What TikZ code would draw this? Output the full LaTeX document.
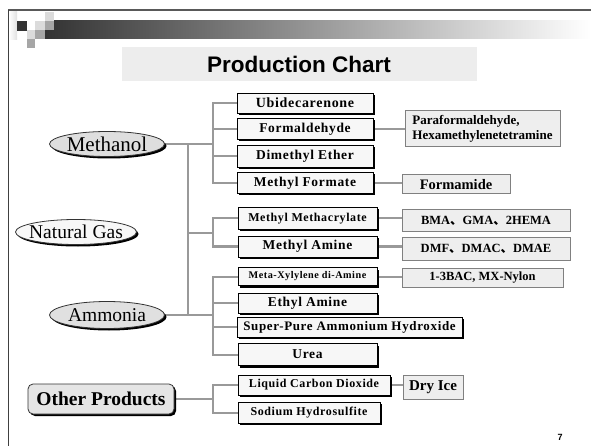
\documentclass[tikz,border=0pt]{standalone}
\usepackage{fontspec}
\setmainfont{Liberation Serif}
\newfontfamily\boxf[LetterSpace=5]{Liberation Serif}
\newfontfamily\sansf{Liberation Sans}
\newfontfamily\cjk{Noto Sans CJK SC}
\usetikzlibrary{shapes.geometric,shadows,backgrounds}
\definecolor{conncol}{HTML}{999999}
\definecolor{rbfill}{HTML}{EEEEEE}
\definecolor{rbdraw}{HTML}{808080}
\newcommand{\dn}{{\cjk 、}}
\begin{document}
\begin{tikzpicture}[x=1pt,y=-1pt,
  conn/.style={draw=conncol,line width=2pt},
  shad/.style={drop shadow={shadow xshift=2pt,shadow yshift=-2pt,opacity=1,fill=black}},
  midbox/.style={shad,draw=black,line width=0.8pt,fill=white!97!black,inner sep=0pt,
    font=\boxf\bfseries\fontsize{13.5}{15}\selectfont},
  rbox/.style={draw=rbdraw,line width=1pt,fill=rbfill,inner sep=0pt,
    font=\bfseries\fontsize{12.5}{13.5}\selectfont},
  src/.style={shad,ellipse,draw=black!80,line width=0.8pt,inner sep=0pt},
  srctext/.style={inner sep=0pt,font=\fontsize{19.5}{21}\selectfont},
]
\useasboundingbox (0,0) rectangle (591,446);
\begin{scope}[on background layer]
\fill[white] (0,0) rectangle (591,446);
\end{scope}
% slide frame and header decoration
\shade[left color=white,right color=black!12] (9,12) rectangle (17,40);
\shade[left color=black!80,middle color=black!30,right color=white] (45,21) rectangle (591,39);
\fill[black!80] (17,21) rectangle (27,31);
\fill[black!14] (35,21) rectangle (45,30);
\fill[black!14] (45,12) rectangle (54,21);
\fill[black!35] (45,21) rectangle (54,30);
\fill[black!14] (27,30) rectangle (35,39);
\fill[black!35] (35,30) rectangle (45,39);
\fill[black!35] (27,39) rectangle (35,48);
\draw[black!65,line width=1.5pt] (8,10) -- (591,10);
\draw[black!75,line width=1pt] (8,10) -- (8,446);
% title
\fill[black!7] (122,47) rectangle (477,81);
\node (title) at (299,64) {\sansf\bfseries\fontsize{22.5}{24}\selectfont Production Chart};
% sources
\node[src,fill=black!13,minimum width=115,minimum height=25] (meth) at (107,144) {};
\node[srctext,font=\fontsize{21}{22}\selectfont] (metht) at (meth.center) {Methanol};
\node[src,fill=black!3,minimum width=121,minimum height=25] (ng) at (76,232) {};
\node[srctext] (ngt) at (ng.center) {Natural Gas};
\node[src,fill=black!12,minimum width=115,minimum height=27] (amm) at (107,315) {};
\node[srctext] (ammt) at (amm.center) {Ammonia};
\node[shad,draw=black!80,line width=0.8pt,fill=black!10,rounded corners=5pt,inner sep=0pt,
  minimum width=146,minimum height=30,font=\bfseries\fontsize{19.5}{21}\selectfont] (oth) at (101,399) {Other Products};
% middle column
\node[midbox,minimum width=136,minimum height=20,font=\boxf\bfseries\fontsize{14}{15}\selectfont] (ubi) at (305,103) {Ubidecarenone};
\node[midbox,minimum width=136,minimum height=21] (form) at (305,129) {Formaldehyde};
\node[midbox,minimum width=136,minimum height=22] (dme) at (305,156) {Dimethyl Ether};
\node[midbox,minimum width=136,minimum height=21] (mf) at (305,183) {Methyl Formate};
\node[midbox,minimum width=139,minimum height=22,font=\boxf\bfseries\fontsize{12}{13}\selectfont] (mma) at (307.5,218.5) {Methyl Methacrylate};
\node[midbox,minimum width=139,minimum height=21,font=\boxf\bfseries\fontsize{13.5}{14}\selectfont] (ma) at (307.5,246.5) {Methyl Amine};
\node[midbox,minimum width=139,minimum height=18,font=\boxf\bfseries\fontsize{10.2}{11}\selectfont] (mx) at (307.5,276.5) {Meta-Xylylene di-Amine};
\node[midbox,minimum width=139,minimum height=20] (ea) at (307.5,303) {Ethyl Amine};
\node[midbox,minimum width=225,minimum height=20,font=\boxf\bfseries\fontsize{13}{14}\selectfont] (sp) at (349.5,327) {Super-Pure Ammonium Hydroxide};
\node[midbox,minimum width=139,minimum height=22] (urea) at (307.5,354.5) {Urea};
\node[midbox,minimum width=152,minimum height=20,font=\boxf\bfseries\fontsize{12}{13}\selectfont] (lco) at (314,385) {Liquid Carbon Dioxide};
\node[midbox,minimum width=142,minimum height=21,font=\boxf\bfseries\fontsize{12}{13}\selectfont] (sh) at (309,412.5) {Sodium Hydrosulfite};
% right column
\node[rbox,minimum width=155,minimum height=36,align=left,font=\bfseries\fontsize{13}{14.5}\selectfont] (pf) at (482.5,129) {Paraformaldehyde,\\Hexamethylenetetramine};
\node[rbox,minimum width=108,minimum height=19,font=\bfseries\fontsize{14.5}{15}\selectfont] (fa) at (456,184.5) {Formamide};
\node[rbox,minimum width=168,minimum height=22] (bma) at (486,221) {BMA\dn GMA\dn 2HEMA};
\node[rbox,minimum width=168,minimum height=22] (dmf) at (486,249) {DMF\dn DMAC\dn DMAE};
\node[rbox,minimum width=161,minimum height=19] (bac) at (482.5,277.5) {1-3BAC, MX-Nylon};
\node[rbox,minimum width=60,minimum height=24,font=\bfseries\fontsize{15}{16}\selectfont] (dry) at (433,387) {Dry Ice};
% page number
\node (pg) at (560,437) {\sansf\bfseries\fontsize{9}{10}\selectfont 7};
% junctions
\coordinate (jm) at (213,144);
\coordinate (jt1) at (188,144);
\coordinate (jt2) at (188,315);
\coordinate (jt3) at (188,233);
\coordinate (jmm) at (213,233);
\coordinate (ja) at (213,315);
\coordinate (jo) at (213,399);
\begin{scope}[on background layer]
\draw[conn] (meth.east) -- (jm);
\draw[conn] (ubi.west) -| (jm);
\draw[conn] (mf.west) -| (jm);
\draw[conn] (form.west) -- (form.west -| jm);
\draw[conn] (dme.west) -- (dme.west -| jm);
\draw[conn] (jt1) -- (jt2);
\draw[conn] (jt3) -- (jmm);
\draw[conn] (mma.west) -| (jmm);
\draw[conn] (ma.west) -| (jmm);
\draw[conn] (amm.east) -- (ja);
\draw[conn] (mx.west) -| (ja);
\draw[conn] (urea.west) -| (ja);
\draw[conn] (ea.west) -- (ea.west -| ja);
\draw[conn] (sp.west) -- (sp.west -| ja);
\draw[conn] (oth.east) -- (jo);
\draw[conn] (lco.west) -| (jo);
\draw[conn] (sh.west) -| (jo);
\draw[conn] (form.east) -- (pf.west);
\draw[conn] (mf.east) -- (mf.east -| fa.west);
\draw[conn] (mma.east) -- (mma.east -| bma.west);
\draw[conn] (ma.east) -- (ma.east -| dmf.west);
\draw[conn] (mx.east) -- (mx.east -| bac.west);
\draw[conn] (lco.east) -- (lco.east -| dry.west);
\end{scope}
\end{tikzpicture}
\end{document}
